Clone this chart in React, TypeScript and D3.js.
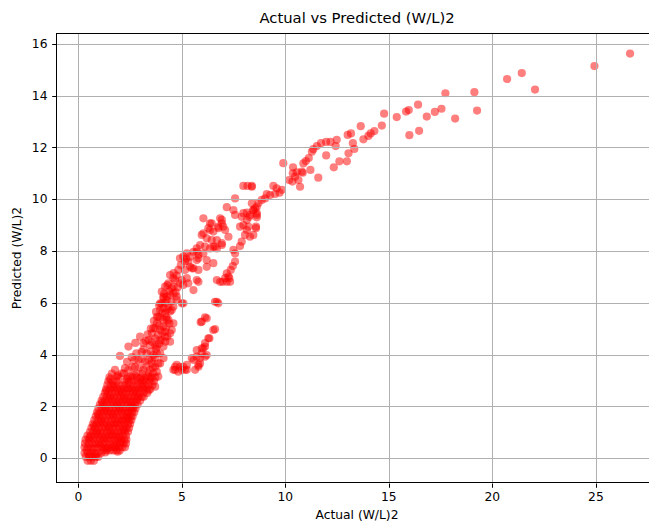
import React from 'react';
import * as d3 from 'd3';

const W = 649;
const H = 521;

const titleText = 'Actual vs Predicted (W/L)2';
const xLabelText = 'Actual (W/L)2';
const yLabelText = 'Predicted (W/L)2';

const xTicks = [0, 5, 10, 15, 20, 25];
const yTicks = [0, 2, 4, 6, 8, 10, 12, 14, 16];

// sparse upper tail [actual, predicted]
const upperPoints: [number, number][] = [
  [26.65, 15.62], [24.93, 15.14], [22.06, 14.23], [21.42, 14.87], [20.71, 14.64], [19.26, 13.42],
  [19.13, 14.13], [18.2, 13.11], [17.73, 14.09], [17.54, 13.49], [17.22, 13.37], [16.83, 13.19],
  [16.46, 12.64], [16.41, 13.65], [15.99, 12.47], [15.96, 13.44], [15.83, 13.38], [15.38, 13.17],
  [14.77, 13.3], [14.66, 12.84], [14.3, 12.63], [14.12, 12.54], [14.01, 12.44], [13.77, 12.31],
  [13.64, 12.82], [13.33, 11.94], [13.26, 12.16], [13.17, 12.54], [13.05, 11.77], [13.01, 12.48],
  [12.97, 11.46], [12.61, 11.46], [12.48, 12.29], [12.43, 12.05], [12.34, 11.23], [12.18, 12.21],
  [11.97, 12.21], [11.97, 11.69], [11.72, 12.16], [11.59, 10.83], [11.52, 12.05], [11.35, 11.93],
  [11.28, 11.83], [11.21, 11.13], [11.13, 11.59], [10.99, 11.47], [10.87, 11.38], [10.84, 11.02],
  [10.71, 10.48], [10.63, 10.74], [10.55, 11.04], [10.47, 10.87], [10.37, 11.23], [10.34, 10.68],
  [10.18, 10.74], [9.9, 11.39], [10.79, 11.06], [10.36, 11.0],
];

// cluster around 7-10
const midPoints: [number, number][] = [
  [9.83, 10.36], [9.58, 10.42], [9.42, 10.51], [9.26, 10.16], [9.02, 10.03], [8.86, 9.97],
  [8.62, 9.71], [8.46, 9.58], [8.62, 9.39], [8.38, 10.48], [8.58, 8.94], [9.72, 10.25],
  [9.5, 10.2], [9.1, 10.2], [8.7, 9.85],
  [7.97, 10.51], [8.17, 10.51], [8.38, 10.51], [7.57, 10.03], [7.17, 9.69], [7.49, 9.58],
  [7.57, 9.39], [7.89, 9.32], [7.97, 9.46], [8.14, 9.48], [8.29, 9.39], [8.45, 9.58],
  [8.62, 9.46], [8.54, 9.65], [8.38, 9.84], [8.26, 9.32], [8.62, 9.3], [8.14, 9.2],
  [7.97, 9.0], [8.21, 8.94], [7.81, 8.94], [8.45, 8.62], [8.58, 8.88], [8.14, 8.81],
  [8.29, 8.55], [8.05, 8.62], [7.89, 8.36], [7.81, 8.19], [7.49, 8.04], [7.57, 7.91],
  [7.46, 7.42], [7.57, 7.59], [7.36, 7.27], [7.17, 7.14], [7.25, 7.01], [7.09, 6.95],
  [6.85, 6.81], [7.29, 6.95], [7.17, 6.81], [7.33, 6.81], [6.97, 6.81],
];

// main band above the dense cluster
const bandPoints: [number, number][] = [
  [6.85, 9.26], [6.93, 9.07], [6.76, 8.88], [7.0, 8.94], [6.44, 9.07], [6.36, 8.81],
  [6.28, 8.88], [6.04, 8.68], [5.96, 8.62], [6.52, 8.75], [6.69, 8.42], [6.44, 8.42],
  [6.2, 8.49], [6.93, 8.23], [6.69, 8.1], [6.52, 8.17], [5.72, 8.1], [5.56, 7.97],
  [5.8, 7.85], [5.4, 7.78], [5.24, 7.91], [5.07, 7.78], [4.91, 7.72], [5.15, 7.59],
  [5.4, 7.39], [5.72, 7.65], [6.2, 7.39], [5.8, 7.27], [5.56, 7.33], [6.04, 9.26],
  [6.36, 9.07], [6.76, 8.94], [6.93, 9.2], [7.09, 8.81], [7.25, 8.55], [6.93, 8.3],
  [6.6, 8.17], [6.36, 8.1], [6.12, 8.17], [5.88, 8.23], [5.72, 7.97], [5.8, 7.72],
  [6.04, 7.91], [6.2, 7.65], [6.52, 7.53], [5.31, 7.59], [5.48, 7.33], [5.15, 7.27],
  [4.83, 7.27],
  [4.43, 7.07], [4.59, 6.95], [4.35, 6.75], [4.19, 6.62], [4.51, 6.56], [5.0, 6.88],
  [5.07, 6.69], [5.31, 6.75], [5.56, 6.49], [5.8, 6.81], [4.59, 6.37], [4.27, 6.24],
  [4.11, 6.17], [4.03, 6.43], [4.75, 6.11], [5.07, 5.98], [4.59, 5.85], [4.43, 5.66],
  [4.11, 5.79], [3.95, 5.98], [3.79, 5.46], [4.27, 5.34], [4.59, 5.21], [4.11, 5.08],
  [3.95, 4.95], [3.71, 5.01], [4.43, 4.82], [4.19, 4.69], [3.95, 4.56], [3.71, 4.36],
  [4.11, 4.31], [3.79, 4.05], [4.43, 4.5], [3.55, 3.79], [3.71, 3.53], [3.95, 3.66],
  [3.62, 3.28], [3.86, 3.15], [3.71, 2.76],
  [4.67, 6.88], [4.91, 6.75], [5.24, 6.95], [5.72, 6.88], [4.59, 6.62], [4.43, 6.3],
  [4.75, 6.24], [4.11, 6.24], [4.27, 6.11], [4.03, 5.98], [4.35, 5.85], [3.95, 5.72],
  [4.19, 5.59], [4.51, 5.72], [3.86, 5.46], [4.11, 5.34], [3.79, 5.21], [4.35, 5.34],
  [3.62, 5.02], [3.55, 4.82], [4.19, 4.88], [4.51, 4.95], [3.38, 4.56], [3.71, 4.63],
  [4.03, 4.56], [3.14, 4.44], [3.46, 4.37], [3.79, 4.31], [2.98, 4.69], [2.42, 4.31],
  [2.01, 3.95], [2.58, 3.9], [3.06, 4.11], [3.3, 4.05], [3.62, 3.98], [3.95, 4.05],
  [2.9, 3.79], [3.22, 3.73], [3.55, 3.66], [3.86, 3.66], [4.11, 3.86], [2.74, 3.53],
  [3.14, 3.41], [3.46, 3.41], [3.79, 3.34], [2.42, 3.41], [2.1, 3.28], [1.77, 3.41],
  [1.86, 3.15], [2.5, 3.15], [2.98, 3.08], [3.38, 3.15], [5.0, 5.98],
  [2.25, 3.48], [2.6, 3.52], [2.95, 3.5], [3.3, 3.55], [3.6, 3.5],
  [2.35, 3.72], [2.7, 3.78], [3.05, 3.82], [3.4, 3.8], [3.7, 3.88],
  [2.8, 4.05], [3.15, 4.2], [3.5, 4.12], [3.75, 4.22],
  [2.75, 4.45], [3.25, 4.52], [3.55, 4.5], [3.9, 4.42], [4.2, 4.5],
  [3.35, 4.78], [3.85, 4.75], [4.05, 4.85], [4.3, 4.7],
  [3.5, 5.0], [3.9, 5.12], [4.25, 5.05], [4.4, 5.2],
  [3.65, 5.3], [3.95, 5.42], [4.25, 5.45],
  [3.75, 5.65], [4.05, 5.62], [4.3, 5.75],
  [3.9, 5.9], [4.2, 6.0], [4.5, 6.05],
  [4.15, 6.35], [4.4, 6.45], [4.7, 6.4],
  [4.3, 6.68], [4.8, 6.6], [4.6, 7.15], [4.75, 7.05], [4.95, 7.45], [5.2, 7.7],
];

// lower branch
const lowerPoints: [number, number][] = [
  [6.69, 6.88], [6.6, 6.04], [6.76, 5.98], [6.69, 6.04], [6.12, 5.44], [5.91, 5.25],
  [6.2, 5.4], [5.96, 5.27], [6.6, 4.98], [6.52, 4.95], [6.28, 4.63], [6.04, 4.24],
  [6.12, 4.44], [5.96, 4.24], [5.72, 4.17], [5.72, 3.92], [5.56, 3.79], [5.96, 4.05],
  [6.12, 3.92], [6.2, 3.98], [5.48, 3.86], [5.88, 3.86], [5.8, 3.6], [5.8, 3.53],
  [5.64, 3.41], [5.24, 3.41], [5.07, 3.53], [4.75, 3.6], [4.67, 3.41], [5.0, 3.41],
  [4.83, 3.34], [5.24, 3.6], [4.91, 3.53], [4.67, 3.53], [4.59, 3.41], [5.15, 3.41],
  [6.33, 4.63], [6.12, 4.31], [5.88, 3.66],
];

// dense low cluster: each row = [predicted, ...actual values]
const blobRows: number[][] = [
  [-0.1, 0.45, 0.6, 0.75],
  [0.05, 0.36, 0.52, 0.68, 0.84, 0.96],
  [0.2, 0.3, 0.46, 0.62, 0.78, 0.94, 1.1],
  [0.3, 1.2, 1.36, 1.52, 1.68, 1.84, 2.0],
  [0.42, 0.3, 0.46, 0.62, 0.8, 0.97, 1.14, 1.3, 1.47, 1.64, 1.8, 1.96, 2.12, 2.25],
  [0.57, 0.32, 0.5, 0.67, 0.84, 1.0, 1.18, 1.35, 1.52, 1.7, 1.86, 2.02, 2.18, 2.3],
  [0.72, 0.35, 0.52, 0.7, 0.88, 1.05, 1.22, 1.4, 1.57, 1.74, 1.9, 2.06, 2.22, 2.32],
  [0.87, 0.44, 0.6, 0.78, 0.95, 1.12, 1.3, 1.47, 1.64, 1.8, 1.97, 2.14, 2.3],
  [1.02, 0.56, 0.72, 0.9, 1.07, 1.24, 1.41, 1.58, 1.75, 1.92, 2.09, 2.26, 2.4],
  [1.17, 0.63, 0.8, 0.97, 1.14, 1.31, 1.48, 1.65, 1.82, 1.99, 2.16, 2.32, 2.45],
  [1.32, 0.7, 0.87, 1.04, 1.21, 1.38, 1.55, 1.72, 1.89, 2.06, 2.23, 2.4, 2.5],
  [1.47, 0.77, 0.94, 1.11, 1.28, 1.45, 1.62, 1.79, 1.96, 2.13, 2.3, 2.46, 2.56],
  [1.62, 0.84, 1.0, 1.17, 1.34, 1.51, 1.68, 1.85, 2.02, 2.19, 2.36, 2.52, 2.62],
  [1.77, 0.9, 1.07, 1.24, 1.41, 1.58, 1.75, 1.92, 2.09, 2.26, 2.43, 2.58, 2.7],
  [1.92, 0.97, 1.14, 1.31, 1.48, 1.65, 1.82, 1.99, 2.16, 2.33, 2.5, 2.64, 2.76],
  [2.07, 1.04, 1.2, 1.37, 1.54, 1.71, 1.88, 2.05, 2.22, 2.39, 2.56, 2.72, 2.86],
  [2.22, 1.12, 1.29, 1.46, 1.63, 1.8, 1.97, 2.14, 2.31, 2.48, 2.65, 2.82, 2.98],
  [2.37, 1.2, 1.37, 1.54, 1.71, 1.88, 2.05, 2.22, 2.39, 2.56, 2.73, 2.9, 3.06, 3.16],
  [2.52, 1.28, 1.45, 1.62, 1.79, 1.96, 2.13, 2.3, 2.47, 2.64, 2.81, 2.98, 3.15, 3.33],
  [2.67, 1.34, 1.52, 1.7, 1.88, 2.06, 2.24, 2.42, 2.6, 2.78, 2.96, 3.14, 3.32, 3.48],
  [2.82, 1.4, 1.58, 1.76, 1.94, 2.12, 2.3, 2.48, 2.66, 2.84, 3.02, 3.2, 3.38, 3.58],
  [2.97, 1.45, 1.65, 1.85, 2.25, 2.45, 2.65, 2.85, 3.05, 3.25, 3.45, 3.65],
  [3.12, 1.5, 1.94, 2.38, 2.6, 2.82, 3.04, 3.26, 3.48, 3.72],
  [3.27, 1.62, 2.2, 2.8, 3.1, 3.4],
];

// extra irregular points inside the dense cluster
const blobFill: [number, number][] = [
  [0.4, 0.3], [0.7, 0.35], [1.05, 0.5], [1.4, 0.38], [1.75, 0.48], [2.05, 0.62],
  [0.55, 0.8], [0.9, 0.95], [1.25, 0.78], [1.6, 0.9], [1.95, 0.82], [2.2, 1.1],
  [0.75, 1.25], [1.1, 1.4], [1.45, 1.22], [1.8, 1.35], [2.15, 1.45], [2.4, 1.55],
  [0.95, 1.7], [1.3, 1.85], [1.65, 1.7], [2.0, 1.88], [2.35, 1.75], [2.6, 1.95],
  [1.15, 2.15], [1.5, 2.3], [1.85, 2.12], [2.2, 2.28], [2.55, 2.18], [2.85, 2.3],
  [1.35, 2.6], [1.7, 2.75], [2.05, 2.58], [2.4, 2.7], [2.75, 2.6], [3.1, 2.75],
  [3.4, 2.62], [1.55, 3.05], [1.9, 3.2], [2.35, 3.05], [2.7, 3.22], [3.15, 3.02],
  [3.55, 3.1], [0.55, 0.12], [0.85, 0.15], [1.3, 0.22], [1.9, 0.25],
];

const FONT = 'DejaVu Sans, Liberation Sans, sans-serif';

export default function App() {
  const left = 56, right = 658, top = 33.4, bottom = 482.8;
  const x = d3.scaleLinear().domain([-1.08, 28.0]).range([left, right]);
  const y = d3.scaleLinear().domain([-0.95, 16.4]).range([bottom, top]);

  const blobPoints: [number, number][] = blobRows.flatMap((row) =>
    row.slice(1).map((v) => [v, row[0]] as [number, number])
  );
  const all = [...blobPoints, ...blobFill, ...bandPoints, ...lowerPoints, ...midPoints, ...upperPoints];

  const snap = (v: number) => Math.round(v) + 0.5;
  const cx = (left + right) / 2;
  const cy = (top + bottom) / 2;

  return (
    <svg width={W} height={H} style={{ position: 'absolute', left: 0, top: 0, background: '#fff' }} fontFamily={FONT}>
      <rect x={0} y={0} width={W} height={H} fill="#fff" />
      <g>
        {all.map((p, i) => (
          <circle key={i} cx={x(p[0])} cy={y(p[1])} r={4.1} fill="red" fillOpacity={0.5} />
        ))}
      </g>
      <g stroke="#b0b0b0" strokeWidth={1}>
        {xTicks.map((t) => (
          <line key={'gx' + t} x1={snap(x(t))} x2={snap(x(t))} y1={top} y2={bottom} />
        ))}
        {yTicks.map((t) => (
          <line key={'gy' + t} x1={left} x2={right} y1={snap(y(t))} y2={snap(y(t))} />
        ))}
      </g>
      <g stroke="#000" strokeWidth={1} fill="none">
        <rect x={snap(left)} y={snap(top)} width={Math.round(right - left)} height={Math.round(bottom - top)} />
        {xTicks.map((t) => (
          <line key={'tx' + t} x1={snap(x(t))} x2={snap(x(t))} y1={snap(bottom)} y2={snap(bottom) + 4.3} />
        ))}
        {yTicks.map((t) => (
          <line key={'ty' + t} x1={snap(left) - 4.3} x2={snap(left)} y1={snap(y(t))} y2={snap(y(t))} />
        ))}
      </g>
      <g fontSize={12.3} fill="#000">
        {xTicks.map((t) => (
          <text key={'lx' + t} x={x(t)} y={bottom + 18} textAnchor="middle">{t}</text>
        ))}
        {yTicks.map((t) => (
          <text key={'ly' + t} x={left - 8.5} y={y(t)} dy="0.35em" textAnchor="end">{t}</text>
        ))}
      </g>
      <text x={cx} y={23} textAnchor="middle" fontSize={14.8} fill="#000">{titleText}</text>
      <text x={cx} y={519} textAnchor="middle" fontSize={12.3} fill="#000">{xLabelText}</text>
      <text transform={`translate(21,${cy}) rotate(-90)`} textAnchor="middle" fontSize={12.3} fill="#000">{yLabelText}</text>
    </svg>
  );
}
